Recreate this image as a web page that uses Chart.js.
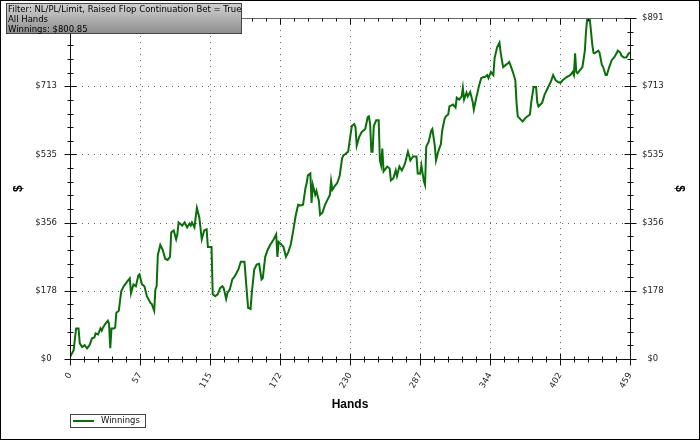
<!DOCTYPE html>
<html>
<head>
<meta charset="utf-8">
<script src="https://cdn.jsdelivr.net/npm/chart.js@4.4.0/dist/chart.umd.min.js"></script>
<style>
  html, body { margin: 0; padding: 0; background: #fff; }
  #wrap { width: 700px; height: 440px; }
</style>
</head>
<body>
<div id="wrap"><canvas id="chart" width="700" height="440"></canvas></div>
<script>
// datos (mano, ganancias en $)
const hands = [
  0, 3, 5, 7, 8, 10, 12, 14, 16, 18, 20, 21, 23, 25, 26, 27, 29, 31, 32, 33,
  34, 36, 37, 38, 40, 42, 44, 47, 49, 50, 52, 54, 56, 57, 59, 61, 63, 66, 67, 69,
  70, 71, 72, 74, 76, 78, 80, 82, 83, 85, 87, 88, 89, 92, 94, 96, 98, 99, 100, 102,
  104, 106, 108, 110, 112, 113, 116, 117, 119, 121, 123, 125, 126, 128, 129, 131, 133, 135, 138, 140,
  143, 145, 146, 148, 149, 151, 153, 155, 157, 158, 160, 162, 164, 167, 169, 170, 171, 173, 175, 177,
  179, 181, 183, 185, 187, 189, 191, 193, 194, 195, 197, 198, 199, 201, 202, 204, 205, 207, 209, 211,
  213, 214, 215, 217, 219, 221, 223, 224, 225, 228, 230, 231, 233, 234, 235, 237, 239, 242, 244, 245,
  246, 247, 248, 249, 251, 253, 254, 255, 256, 257, 260, 262, 263, 265, 267, 268, 270, 272, 274, 275,
  277, 279, 281, 284, 285, 287, 288, 290, 291, 292, 294, 296, 297, 299, 300, 302, 304, 305, 307, 308,
  310, 311, 314, 316, 317, 319, 321, 322, 323, 325, 326, 328, 330, 331, 333, 334, 335, 337, 339, 340,
  342, 343, 345, 347, 348, 350, 352, 353, 354, 355, 357, 359, 360, 361, 363, 365, 366, 367, 371, 374,
  377, 378, 380, 382, 383, 384, 387, 389, 392, 394, 396, 398, 400, 402, 404, 407, 410, 412, 413, 414,
  415, 416, 418, 420, 422, 423, 424, 426, 427, 428, 429, 430, 433, 434, 436, 437, 439, 440, 442, 444,
  446, 448, 449, 451, 452, 454, 456, 458, 459
];
const winnings = [
  5, 23, 80, 80, 41, 31, 36, 28, 36, 54, 56, 67, 64, 80, 74, 82, 92, 100, 92, 28,
  80, 80, 82, 121, 126, 177, 190, 203, 211, 172, 195, 190, 218, 221, 195, 190, 164, 146, 144, 126,
  182, 190, 272, 298, 285, 262, 259, 267, 331, 336, 313, 326, 357, 349, 357, 344, 354, 349, 357, 344,
  395, 370, 313, 336, 339, 293, 293, 169, 164, 169, 185, 190, 185, 157, 172, 182, 208, 216, 234, 254,
  254, 172, 134, 131, 172, 234, 247, 249, 208, 211, 267, 285, 298, 313, 326, 267, 306, 300, 293, 267,
  280, 300, 336, 375, 403, 401, 403, 447, 460, 480, 485, 408, 455, 429, 439, 413, 377, 383, 403, 416,
  429, 465, 442, 452, 460, 478, 524, 532, 534, 542, 588, 609, 614, 606, 557, 580, 593, 601, 632, 634,
  614, 542, 542, 609, 624, 624, 519, 506, 550, 490, 503, 498, 467, 472, 493, 478, 503, 493, 506, 516,
  542, 519, 529, 529, 485, 485, 506, 465, 455, 555, 568, 596, 601, 557, 519, 544, 562, 596, 627, 634,
  639, 660, 665, 657, 683, 678, 686, 709, 678, 696, 686, 698, 673, 652, 683, 696, 711, 734, 737, 737,
  742, 734, 750, 742, 786, 814, 827, 801, 781, 763, 768, 773, 776, 768, 750, 729, 670, 634, 621, 632,
  639, 670, 711, 711, 670, 660, 670, 691, 711, 724, 742, 729, 724, 722, 729, 737, 742, 750, 742, 799,
  750, 747, 755, 763, 806, 858, 891, 888, 858, 824, 801, 799, 806, 801, 768, 763, 742, 742, 763, 781,
  788, 799, 806, 801, 793, 788, 788, 799, 801
];
const xTickValues = [0, 57.375, 114.75, 172.125, 229.5, 286.875, 344.25, 401.625, 459];
const yTickValues = [0, 178.2, 356.4, 534.6, 712.8, 891];
const seriesLabel = 'Winnings';
const xTitle = 'Hands';
const yTitle = '$';
const infoLines = [
  'Filter: NL/PL/Limit, Raised Flop Continuation Bet = True',
  'All Hands',
  'Winnings: $800.85'
];

const lineColor = '#0a6e0a';
const tickFont = { family: 'DejaVu Sans', size: 8.5 };
const titleFont = { family: 'Liberation Sans', size: 12, weight: 'bold' };

const points = hands.map((h, i) => ({ x: h, y: winnings[i] }));

function setTicks(values) {
  return scale => { scale.ticks = values.map(v => ({ value: v })); };
}

// posiciones de las marcas menores (4 entre cada marca mayor)
function minorValues(values) {
  const out = [];
  for (let i = 0; i < values.length - 1; i++) {
    const step = (values[i + 1] - values[i]) / 5;
    for (let k = 1; k < 5; k++) out.push(values[i] + step * k);
  }
  return out;
}

const overlay = {
  id: 'overlay',
  beforeDraw(chart) {
    const ctx = chart.ctx;
    ctx.save();
    ctx.fillStyle = '#fff';
    ctx.fillRect(0, 0, chart.width, chart.height);
    ctx.restore();
  },
  beforeDatasetsDraw(chart) {
    const { ctx, chartArea: a, scales } = chart;
    ctx.save();
    ctx.strokeStyle = '#666';
    ctx.lineWidth = 1;
    ctx.setLineDash([1, 5]);
    xTickValues.slice(1, -1).forEach(v => {
      const px = Math.round(scales.x.getPixelForValue(v)) + 0.5;
      ctx.beginPath(); ctx.moveTo(px, a.top); ctx.lineTo(px, a.bottom); ctx.stroke();
    });
    yTickValues.slice(1, -1).forEach(v => {
      const py = Math.round(scales.y.getPixelForValue(v)) + 0.5;
      ctx.beginPath(); ctx.moveTo(a.left, py); ctx.lineTo(a.right, py); ctx.stroke();
    });
    ctx.restore();
  },
  afterDraw(chart) {
    const { ctx, chartArea: a, scales } = chart;
    const L = Math.round(a.left) + 0.5, R = Math.round(a.right) + 0.5;
    const T = Math.round(a.top) + 0.5, B = Math.round(a.bottom) + 0.5;
    ctx.save();
    ctx.lineWidth = 1;

    // bordes del area
    ctx.strokeStyle = '#666';
    ctx.beginPath(); ctx.moveTo(L, T); ctx.lineTo(R, T); ctx.stroke();
    ctx.strokeStyle = '#111';
    ctx.beginPath(); ctx.moveTo(L, T); ctx.lineTo(L, B); ctx.lineTo(R, B); ctx.stroke();
    ctx.beginPath(); ctx.moveTo(R, T); ctx.lineTo(R, B); ctx.stroke();

    // marcas
    const xMinor = minorValues(xTickValues), yMinor = minorValues(yTickValues);
    const hTick = (v, len) => {
      const px = Math.round(scales.x.getPixelForValue(v)) + 0.5;
      ctx.beginPath(); ctx.moveTo(px, B - len); ctx.lineTo(px, B + len); ctx.stroke();
      ctx.beginPath(); ctx.moveTo(px, T); ctx.lineTo(px, T + len); ctx.stroke();
    };
    const vTick = (v, len) => {
      const py = Math.round(scales.y.getPixelForValue(v)) + 0.5;
      ctx.beginPath(); ctx.moveTo(L - len, py); ctx.lineTo(L + len, py); ctx.stroke();
      ctx.beginPath(); ctx.moveTo(R - len, py); ctx.lineTo(R + len, py); ctx.stroke();
    };
    xTickValues.forEach(v => hTick(v, 6));
    xMinor.forEach(v => hTick(v, 3));
    yTickValues.forEach(v => vTick(v, 6));
    yMinor.forEach(v => vTick(v, 3));

    // leyenda
    ctx.fillStyle = '#fff';
    ctx.fillRect(70, 414, 75, 13);
    ctx.strokeStyle = '#444';
    ctx.strokeRect(70.5, 414.5, 75, 13);
    ctx.strokeStyle = lineColor;
    ctx.lineWidth = 2;
    ctx.beginPath(); ctx.moveTo(73, 421); ctx.lineTo(94, 421); ctx.stroke();
    ctx.lineWidth = 1;
    ctx.fillStyle = '#111';
    ctx.font = '8.5px "DejaVu Sans"';
    ctx.textBaseline = 'middle';
    ctx.fillText(seriesLabel, 101, 421);

    // caja de informacion
    const g = ctx.createLinearGradient(0, 3, 0, 34);
    g.addColorStop(0, '#d4d4d4');
    g.addColorStop(1, '#8c8c8c');
    ctx.fillStyle = g;
    ctx.fillRect(6, 3, 236, 31);
    ctx.strokeStyle = '#444';
    ctx.strokeRect(6.5, 3.5, 235, 30);
    ctx.fillStyle = '#000';
    ctx.font = '8.5px "DejaVu Sans"';
    infoLines.forEach((t, i) => ctx.fillText(t, 8, 10 + i * 10));

    // marco exterior
    ctx.strokeStyle = '#000';
    ctx.strokeRect(0.5, 0.5, 699, 439);
    ctx.restore();
  }
};

new Chart(document.getElementById('chart'), {
  type: 'line',
  data: {
    datasets: [{
      label: seriesLabel,
      data: points,
      borderColor: lineColor,
      borderWidth: 2,
      pointRadius: 0,
      tension: 0,
      fill: false
    }]
  },
  options: {
    responsive: false,
    devicePixelRatio: 1,
    animation: false,
    layout: { padding: { top: 12 } },
    plugins: {
      legend: { display: false },
      tooltip: { enabled: false }
    },
    scales: {
      x: {
        type: 'linear',
        min: 0,
        max: 459,
        position: 'bottom',
        afterBuildTicks: setTicks(xTickValues),
        afterFit: s => { s.height = 81; },
        grid: { display: false, drawTicks: false },
        border: { display: false },
        ticks: {
          autoSkip: false,
          minRotation: 60,
          maxRotation: 60,
          padding: 12,
          color: '#222',
          font: tickFont,
          callback: v => String(Math.round(v))
        },
        title: { display: true, text: xTitle, color: '#000', font: titleFont, padding: { top: 0, bottom: 28 } }
      },
      y: {
        type: 'linear',
        min: 0,
        max: 891,
        position: 'left',
        afterBuildTicks: setTicks(yTickValues),
        afterFit: s => { s.width = 70; },
        grid: { display: false, drawTicks: false },
        border: { display: false },
        ticks: { crossAlign: 'center', padding: 13, color: '#222', font: tickFont, callback: v => '$' + Math.round(v) },
        title: { display: true, text: yTitle, color: '#000', font: titleFont, padding: { top: 11 } }
      },
      y2: {
        type: 'linear',
        min: 0,
        max: 891,
        position: 'right',
        afterBuildTicks: setTicks(yTickValues),
        afterFit: s => { s.width = 70; },
        grid: { display: false, drawTicks: false },
        border: { display: false },
        ticks: { crossAlign: 'center', padding: 12, color: '#222', font: tickFont, callback: v => '$' + Math.round(v) },
        title: { display: true, text: yTitle, color: '#000', font: titleFont, padding: { top: 13 } }
      }
    }
  },
  plugins: [overlay]
});
</script>
</body>
</html>
